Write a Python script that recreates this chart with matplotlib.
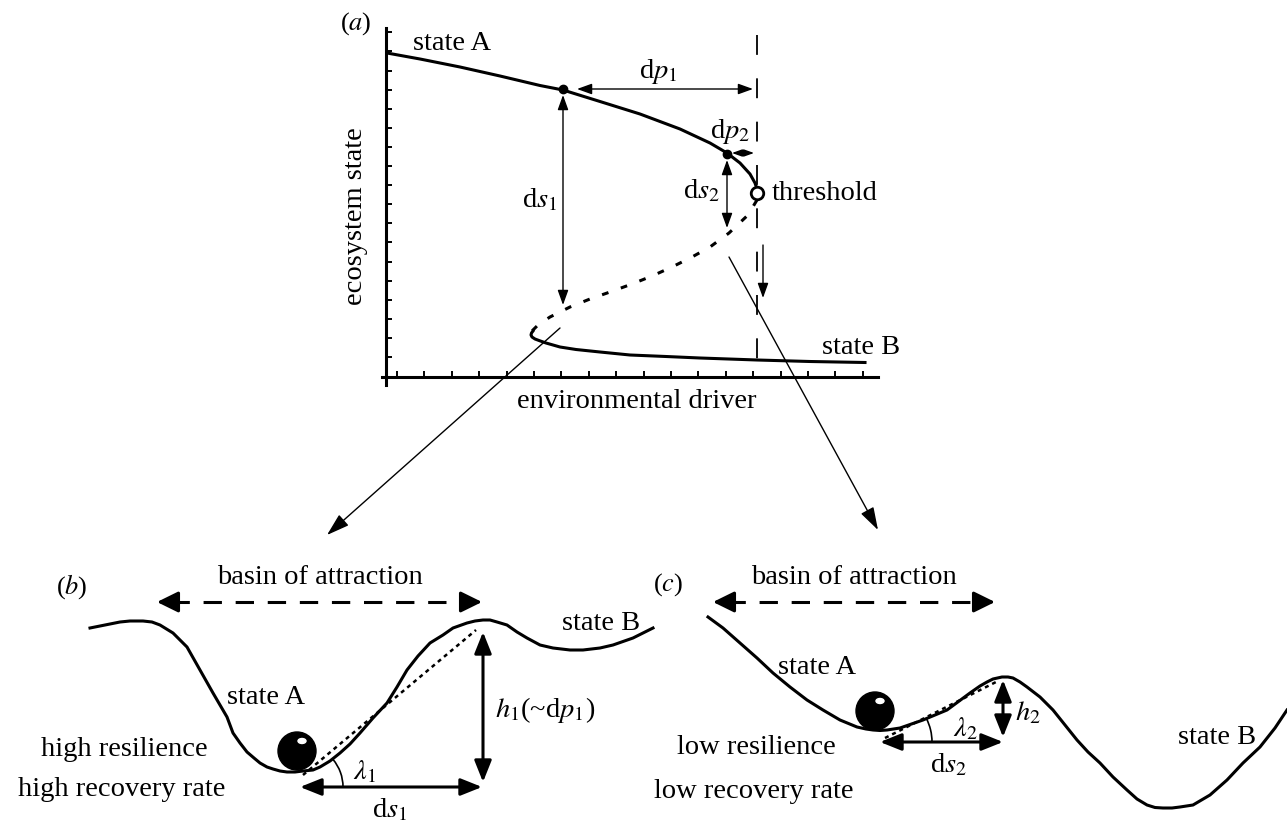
import matplotlib
matplotlib.use('Agg')
import matplotlib.pyplot as plt
import numpy as np
from matplotlib.patches import Circle, Arc, Ellipse, ConnectionPatch

plt.rcParams['font.family'] = ['Liberation Serif', 'DejaVu Serif']
plt.rcParams['mathtext.fontset'] = 'stix'

W, H = 1287, 827
FS = 20.5

# panel (a): fold bifurcation (driver / state units, origin at the axes corner)
state_a_x = [1, 34, 74, 114, 154, 177, 214, 254, 294, 324, 341, 354, 364, 369, 371]
state_a_y = [324, 318, 310, 301, 291.5, 287, 275.5, 263, 248, 234, 224, 214, 203, 194, 188]
unstable_x = [371, 362, 343, 324, 306, 286, 266, 246, 224, 204, 184, 164, 152, 146]
unstable_y = [177, 162, 144, 130, 120, 110, 101, 93, 85, 78, 70, 60, 52, 46]
state_b_x = [147, 145.5, 145, 146, 149, 153, 160, 174, 190, 214, 244, 280, 314, 371, 424, 479]
state_b_y = [46, 44, 42, 40, 38, 36.5, 34, 30, 27.5, 25, 22, 20.5, 19, 17, 15.5, 14.5]
threshold = (371, 184)
point1 = (177, 288)
point2 = (341, 223)

# panel (b): high resilience landscape (pixels)
land_b_x = [90, 100, 110, 120, 130, 143, 152, 160, 173, 187, 200, 213, 227, 233, 240,
            247, 254, 260, 267, 273, 280, 287, 295, 303, 313, 320, 330, 340, 350, 360,
            373, 387, 397, 407, 418, 430, 443, 453, 467, 475, 483, 490, 497, 507, 517,
            527, 540, 553, 570, 583, 600, 613, 633, 653]
land_b_y = [628, 626, 624, 622, 621, 621, 622, 625, 633, 647, 670, 693, 717, 733, 743,
            752, 758, 763, 767, 769, 771, 772, 772, 771, 770, 767, 761, 753, 744, 733,
            718, 703, 687, 670, 656, 643, 635, 628, 623, 621, 620, 620, 622, 625, 632,
            638, 645, 648, 650, 650, 648, 645, 638, 628]

# panel (c): low resilience landscape (pixels)
land_c_x = [708, 723, 740, 757, 773, 790, 807, 823, 840, 857, 866, 873, 880, 887, 900,
            923, 947, 970, 980, 987, 993, 1002, 1008, 1013, 1020, 1027, 1040, 1053, 1065,
            1077, 1088, 1100, 1113, 1127, 1137, 1147, 1155, 1163, 1172, 1180, 1193, 1210,
            1227, 1243, 1260, 1275, 1287]
land_c_y = [617, 628, 643, 658, 673, 687, 700, 710, 720, 727, 729, 730, 730.5, 730, 728,
            720, 710, 693, 686, 682, 679, 677, 677, 678, 682, 687, 697, 710, 725,
            740, 752, 763, 777, 790, 799, 805, 807.5, 808, 808, 807, 805, 795,
            780, 763, 747, 728, 710]

fig = plt.figure(figsize=(W / 100, H / 100), dpi=100)
ax = fig.add_axes([0, 0, 1, 1])
ax.set_xlim(0, W)
ax.set_ylim(H, 0)
ax.axis('off')

# ---- panel (a)
ax_a = fig.add_axes([382 / W, 1 - 385 / H, 496 / W, 357 / H])
ax_a.set_xlim(-4, 492)
ax_a.set_ylim(-8, 349)
ax_a.patch.set_visible(False)
for s in ['top', 'right']:
    ax_a.spines[s].set_visible(False)
for s in ['left', 'bottom']:
    ax_a.spines[s].set_position(('data', 0))
    ax_a.spines[s].set_linewidth(2.2)
ax_a.set_xticks(np.arange(11, 480, 27.4))
ax_a.set_yticks(np.arange(20, 348, 19.1))
ax_a.tick_params(direction='in', length=4, width=1.4, labelbottom=False, labelleft=False)

ax_a.plot(state_a_x, state_a_y, color='k', lw=2.2, solid_joinstyle='round')
ax_a.plot(unstable_x, unstable_y, color='k', lw=2.2, ls=(0, (2.2, 4.3)))
ax_a.plot(state_b_x, state_b_y, color='k', lw=2.2, solid_joinstyle='round')
ax_a.plot([threshold[0]] * 2, [342, 17], color='k', lw=1.3, ls=(0, (11, 13)))
ax_a.plot(*point1, 'o', ms=6, color='k')
ax_a.plot(*point2, 'o', ms=6, color='k')
ax_a.plot(*threshold, 'o', ms=9, mfc='white', mec='k', mew=2, zorder=5)

thin = dict(arrowstyle='<|-|>,head_length=0.5,head_width=0.18', lw=1, color='k',
            shrinkA=0, shrinkB=0, mutation_scale=18)
ax_a.annotate('', xy=(367, 288), xytext=(191, 288), arrowprops=thin)
ax_a.annotate('', xy=(177, 72), xytext=(177, 282), arrowprops=thin)
ax_a.annotate('', xy=(368, 224), xytext=(346, 224),
              arrowprops=dict(thin, mutation_scale=12))
ax_a.annotate('', xy=(341, 149), xytext=(341, 217), arrowprops=thin)
ax_a.annotate('', xy=(377, 79), xytext=(377, 132),
              arrowprops=dict(thin, arrowstyle='-|>,head_length=0.5,head_width=0.18'))

ax_a.text(27, 334, 'state A', fontsize=FS, va='center')
ax_a.text(272, 305, r'd$p_1$', fontsize=FS, ha='center', va='center')
ax_a.text(344, 246, r'd$p_2$', fontsize=FS, ha='center', va='center')
ax_a.text(171, 177, r'd$s_1$', fontsize=FS, ha='right', va='center')
ax_a.text(334, 186, r'd$s_2$', fontsize=FS, ha='right', va='center')
ax_a.text(386, 184, 'threshold', fontsize=FS, va='center')
ax_a.text(436, 30, 'state B', fontsize=FS, va='center')

ax.text(356, 24, r'($a$)', fontsize=19, ha='center', va='center')
ax.text(355, 216, 'ecosystem state', fontsize=FS, rotation=90, ha='center', va='center')
ax.text(637, 402, 'environmental driver', fontsize=FS, ha='center', va='center')

# links from (a) to (b) and (c)
for xa, xb in [((174, 49), (327, 535)), ((343, 120), (878, 530))]:
    con = ConnectionPatch(xyA=xa, coordsA=ax_a.transData, xyB=xb, coordsB=ax.transData,
                          arrowstyle='-|>,head_length=0.7,head_width=0.22',
                          mutation_scale=20, lw=1, color='k')
    fig.add_artist(con)

# ---- panels (b) and (c)
thick = dict(arrowstyle='<|-|>,head_length=0.65,head_width=0.26', lw=2.2, color='k',
             shrinkA=0, shrinkB=0, mutation_scale=20)
head = dict(arrowstyle='-|>,head_length=0.65,head_width=0.32', lw=2.2, color='k',
            shrinkA=0, shrinkB=0, mutation_scale=20)


def basin(x0, x1, y):
    ax.plot([x0 + 14, x1 - 14], [y, y], color='k', lw=2.2, ls=(0, (6, 4.5)))
    ax.annotate('', xy=(x0, y), xytext=(x0 + 18, y), arrowprops=head)
    ax.annotate('', xy=(x1, y), xytext=(x1 - 18, y), arrowprops=head)
    ax.text((x0 + x1) / 2, 577, 'basin of attraction', fontsize=FS, ha='center', va='center')


def ball(cx, cy):
    ax.add_patch(Circle((cx, cy), 19, color='k', zorder=5))
    ax.add_patch(Ellipse((cx + 5, cy - 10), 8, 5, color='white', zorder=6))


# (b)
ax.text(72, 587, r'($b$)', fontsize=19, ha='center', va='center')
basin(157, 482, 602)
ax.plot(land_b_x, land_b_y, color='k', lw=2.2, solid_joinstyle='round')
ball(297, 751)
ax.plot([303, 476], [775, 630], color='k', lw=1.8, ls=(0, (1.6, 1.6)))
ax.annotate('', xy=(483, 632), xytext=(483, 782), arrowprops=thick)
ax.annotate('', xy=(482, 787), xytext=(300, 787), arrowprops=thick)
ax.add_patch(Arc((300, 787), 86, 86, theta1=-40, theta2=0, lw=1.2, color='k'))
ax.text(365, 772, r'$\lambda_1$', fontsize=FS, ha='center', va='center')
ax.text(495, 710, r'$h_1$(~d$p_1$)', fontsize=FS, va='center')
ax.text(390, 810, r'd$s_1$', fontsize=FS, ha='center', va='center')
ax.text(227, 697, 'state A', fontsize=FS, va='center')
ax.text(601, 623, 'state B', fontsize=FS, ha='center', va='center')
ax.text(124, 750, 'high resilience', fontsize=FS, ha='center', va='center')
ax.text(122, 790, 'high recovery rate', fontsize=FS, ha='center', va='center')

# (c)
ax.text(668, 585, r'($c$)', fontsize=19, ha='center', va='center')
basin(713, 995, 602)
ax.plot(land_c_x, land_c_y, color='k', lw=2.2, solid_joinstyle='round')
ball(875, 711)
ax.plot([885, 998], [738, 681], color='k', lw=1.8, ls=(0, (1.6, 1.6)))
ax.annotate('', xy=(1003, 680), xytext=(1003, 737), arrowprops=thick)
ax.annotate('', xy=(1003, 742), xytext=(880, 742), arrowprops=thick)
ax.add_patch(Arc((880, 742), 104, 104, theta1=-27, theta2=0, lw=1.2, color='k'))
ax.text(965, 729, r'$\lambda_2$', fontsize=FS, ha='center', va='center')
ax.text(1015, 713, r'$h_2$', fontsize=FS, va='center')
ax.text(948, 765, r'd$s_2$', fontsize=FS, ha='center', va='center')
ax.text(778, 667, 'state A', fontsize=FS, va='center')
ax.text(1217, 737, 'state B', fontsize=FS, ha='center', va='center')
ax.text(756, 748, 'low resilience', fontsize=FS, ha='center', va='center')
ax.text(754, 792, 'low recovery rate', fontsize=FS, ha='center', va='center')

fig.savefig('out.png', dpi=100, facecolor='white')
